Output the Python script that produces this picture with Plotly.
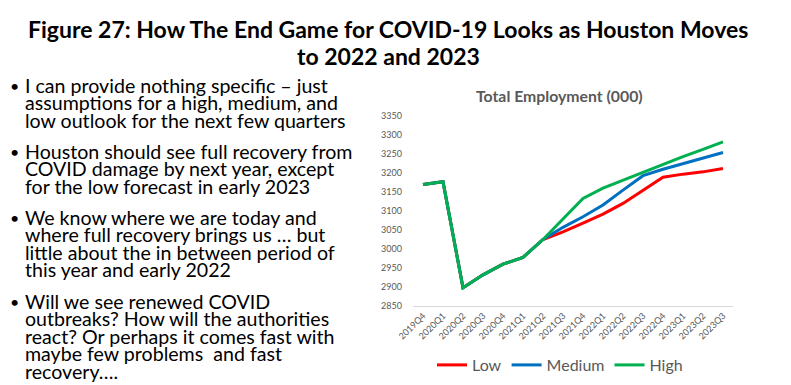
import plotly.graph_objects as go

# The page body keeps an 8px margin, so the figure is sized to fit the
# 791x385 window and positions below are given in window pixels.
WIN_W, WIN_H = 791, 385
OFF = 8
W, H = WIN_W - OFF, WIN_H - OFF

quarters = ["2019Q4", "2020Q1", "2020Q2", "2020Q3", "2020Q4", "2021Q1", "2021Q2",
            "2021Q3", "2021Q4", "2022Q1", "2022Q2", "2022Q3", "2022Q4",
            "2023Q1", "2023Q2", "2023Q3"]
history = [3170, 3177, 2898, 2932, 2960, 2978, 3025]
low_fc = [3045, 3068, 3092, 3120, 3155, 3189, 3197, 3203, 3212]
medium_fc = [3057, 3085, 3116, 3155, 3193, 3210, 3225, 3241, 3254]
high_fc = [3078, 3133, 3160, 3181, 3202, 3221, 3243, 3262, 3282]

series_names = ["Low", "Medium", "High"]
series_values = [history + low_fc, history + medium_fc, history + high_fc]
series_colors = ["#FF0000", "#0070C0", "#00B050"]

y_ticks = [2850, 2900, 2950, 3000, 3050, 3100, 3150, 3200, 3250, 3300, 3350]

title_lines = ["Figure 27: How The End Game for COVID-19 Looks as Houston Moves",
               "to 2022 and 2023"]
chart_title = "Total Employment (000)"
bullets = [
    ["I can provide nothing specific \u2013 just",
     "assumptions for a high, medium, and",
     "low outlook for the next few quarters"],
    ["Houston should see full recovery from",
     "COVID damage by next year, except",
     "for the low forecast in early 2023"],
    ["We know where we are today and",
     "where full recovery brings us \u2026 but",
     "little about the in between period of",
     "this year and early 2022"],
    ["Will we see renewed COVID",
     "outbreaks? How will the authorities",
     "react? Or perhaps it comes fast with",
     "maybe few problems  and fast",
     "recovery\u2026."],
]

FONT = "Lato"
GRAY = "#595959"


def px(x):
    return max(x - OFF, 0) / W


def py(y):
    return 1 - (y - OFF) / H


fig = go.Figure()
for name, vals, col in zip(series_names, series_values, series_colors):
    fig.add_trace(go.Scatter(x=quarters, y=vals, mode="lines", name=name,
                             line=dict(color=col, width=3)))

annotations = []
# main title
for i, t in enumerate(title_lines):
    annotations.append(dict(text="<b>" + t + "</b>", x=px(388), y=py(29 + 27 * i),
                            xref="paper", yref="paper", xanchor="center", yanchor="middle",
                            showarrow=False, font=dict(family=FONT, size=23, color="#000000")))
# chart title
annotations.append(dict(text="<b>" + chart_title + "</b>", x=px(559), y=py(95),
                        xref="paper", yref="paper", xanchor="center", yanchor="middle",
                        showarrow=False, font=dict(family=FONT, size=15.8, color=GRAY)))
# bullets
y = 85
pitch = 17.5
gap = 31.2
for group in bullets:
    annotations.append(dict(text="\u2022", x=px(8), y=py(y), xref="paper", yref="paper",
                            xanchor="left", yanchor="middle", showarrow=False,
                            font=dict(family=FONT, size=16, color="#000000")))
    for j, line in enumerate(group):
        annotations.append(dict(text=line, x=px(23), y=py(y), xref="paper", yref="paper",
                                xanchor="left", yanchor="middle", showarrow=False,
                                font=dict(family=FONT, size=19.6, color="#000000")))
        if j < len(group) - 1:
            y += pitch
    y += gap

fig.update_layout(
    width=W, height=H,
    margin=dict(l=0, r=0, t=0, b=0),
    paper_bgcolor="white", plot_bgcolor="white",
    font=dict(family=FONT, color=GRAY),
    showlegend=True,
    legend=dict(orientation="h", x=px(560), y=py(365), xanchor="center", yanchor="middle",
                font=dict(family=FONT, size=16, color=GRAY), bgcolor="rgba(0,0,0,0)"),
    annotations=annotations,
    xaxis=dict(domain=[px(413), px(733)], range=[-0.5, len(quarters) - 0.5],
               type="category", tickangle=-45, showgrid=False, zeroline=False,
               showline=True, linecolor="#D9D9D9", linewidth=1,
               tickfont=dict(family=FONT, size=9, color=GRAY), automargin=False,
               ticks=""),
    yaxis=dict(domain=[py(306), py(116)], range=[2850, 3350], tickvals=y_ticks,
               showgrid=False, zeroline=False, showline=False,
               tickfont=dict(family=FONT, size=9, color=GRAY), automargin=False,
               ticklabelstandoff=10),
)

fig.write_html("out.html")
